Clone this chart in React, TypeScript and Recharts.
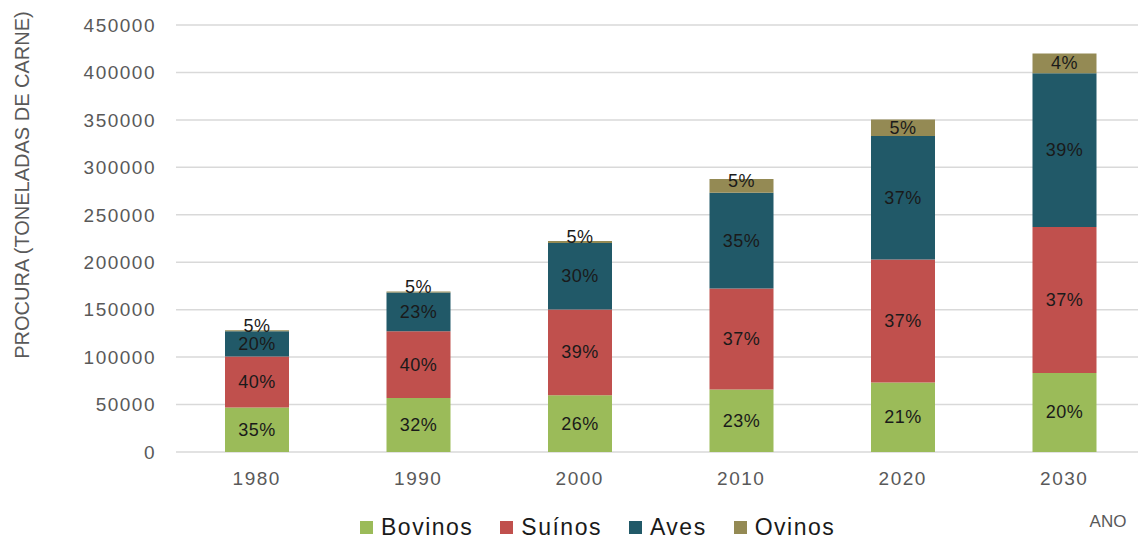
import { BarChart, Bar, XAxis, YAxis, CartesianGrid, Legend, LabelList } from 'recharts'

const years = ['1980', '1990', '2000', '2010', '2020', '2030']
const bovinos = [46800, 57000, 59800, 65800, 73200, 83300]
const suinos = [53800, 70300, 90400, 106600, 129800, 153700]
const aves = [26700, 40900, 70000, 100900, 130100, 162200]
const ovinos = [1100, 1000, 2100, 14400, 17200, 20700]
const bovinosPct = ['35%', '32%', '26%', '23%', '21%', '20%']
const suinosPct = ['40%', '40%', '39%', '37%', '37%', '37%']
const avesPct = ['20%', '23%', '30%', '35%', '37%', '39%']
const ovinosPct = ['5%', '5%', '5%', '5%', '5%', '4%']
const yTicks = [0, 50000, 100000, 150000, 200000, 250000, 300000, 350000, 400000, 450000]

const series = [
  { key: 'bovinos', label: 'bovinosPct', name: 'Bovinos', color: '#9BBB59' },
  { key: 'suinos', label: 'suinosPct', name: 'Suínos', color: '#C0504D' },
  { key: 'aves', label: 'avesPct', name: 'Aves', color: '#215968' },
  { key: 'ovinos', label: 'ovinosPct', name: 'Ovinos', color: '#948A54' }
]

const data = years.map((year, i) => ({
  year,
  bovinos: bovinos[i],
  suinos: suinos[i],
  aves: aves[i],
  ovinos: ovinos[i],
  bovinosPct: bovinosPct[i],
  suinosPct: suinosPct[i],
  avesPct: avesPct[i],
  ovinosPct: ovinosPct[i]
}))

const font = '"Liberation Sans", Arial, sans-serif'
const gray = '#595959'

// thin segments get their label nudged up a little, like the original
function SegmentLabel(props: any) {
  const { x, y, width, height, value } = props
  const h = Math.abs(height)
  const top = height < 0 ? y + height : y
  const cy = h < 14 ? top + h / 2 - 5 : top + h / 2
  return (
    <text
      x={x + width / 2}
      y={cy}
      textAnchor="middle"
      dominantBaseline="central"
      fill="#1a1a1a"
      fontSize={18}
      fontFamily={font}
      style={{ letterSpacing: 0.5 }}
    >
      {value}
    </text>
  )
}

function LegendContent() {
  return (
    <div style={{ display: 'flex', alignItems: 'center', fontFamily: font, fontSize: 23, lineHeight: '24px', color: '#1a1a1a', letterSpacing: 1.5 }}>
      {series.map(s => (
        <div key={s.key} style={{ display: 'flex', alignItems: 'center', marginRight: 27 }}>
          <span style={{ display: 'inline-block', width: 13, height: 13, background: s.color, marginRight: 8 }} />
          <span>{s.name}</span>
        </div>
      ))}
    </div>
  )
}

export default function App() {
  return (
    <div style={{ position: 'absolute', left: 0, top: 0, width: 1138, height: 541, overflow: 'hidden', background: '#fff' }}>
      <BarChart
        width={1160}
        height={541}
        data={data}
        margin={{ top: 25, right: 15, left: 0, bottom: 19 }}
        barSize={64}
      >
        <CartesianGrid vertical={false} stroke="#D9D9D9" strokeWidth={1.5} />
        <XAxis
          dataKey="year"
          axisLine={false}
          tickLine={false}
          height={40}
          tickMargin={14}
          tick={{ fill: gray, fontSize: 19, fontFamily: font, letterSpacing: 1.5 }}
          label={{
            content: () => (
              <text x={1108} y={527} textAnchor="middle" fill={gray} fontSize={17} fontFamily={font}>ANO</text>
            )
          }}
        />
        <YAxis
          width={176}
          domain={[0, 450000]}
          ticks={yTicks}
          interval={0}
          axisLine={false}
          tickLine={false}
          tickSize={0}
          tickMargin={20}
          tick={{ fill: gray, fontSize: 19, fontFamily: font, letterSpacing: 1.5 }}
          label={{
            content: () => (
              <text
                x={22}
                y={185}
                transform="rotate(-90, 22, 185)"
                textAnchor="middle"
                dominantBaseline="central"
                fill={gray}
                fontSize={20}
                fontFamily={font}
              >
                PROCURA (TONELADAS DE CARNE)
              </text>
            )
          }}
        />
        <Legend
          verticalAlign="bottom"
          height={30}
          content={() => <LegendContent />}
          wrapperStyle={{ left: 360, top: 515, width: 620 }}
        />
        {series.map(s => (
          <Bar key={s.key} dataKey={s.key} name={s.name} stackId="a" fill={s.color} isAnimationActive={false}>
            <LabelList dataKey={s.label} content={SegmentLabel} />
          </Bar>
        ))}
      </BarChart>
    </div>
  )
}
